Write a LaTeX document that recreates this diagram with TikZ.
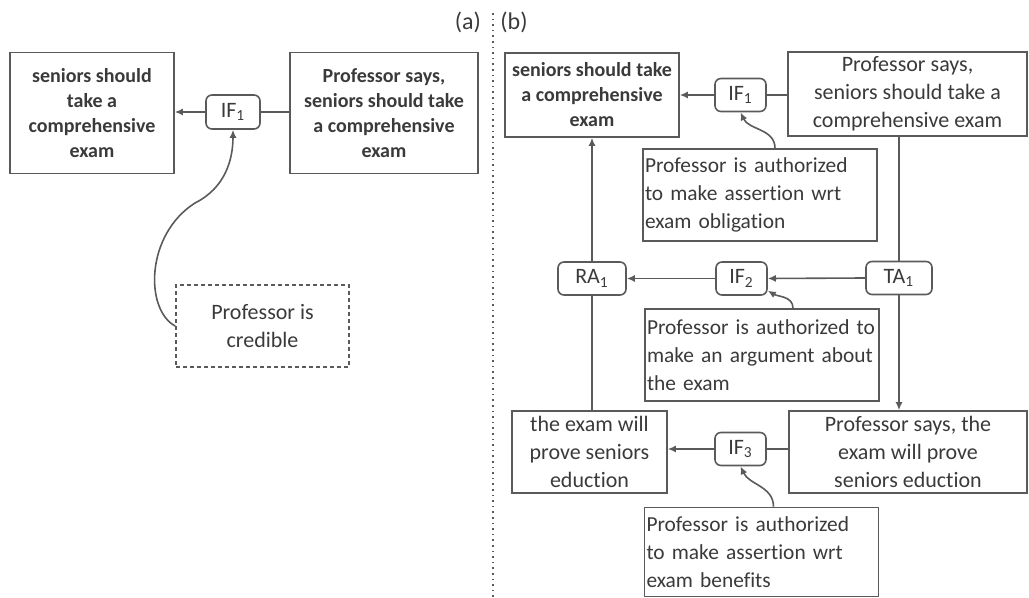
\documentclass[tikz,border=0pt]{standalone}
\usepackage{fontspec}
\setmainfont{Carlito}[Ligatures=NoCommon]
\usepackage{xcolor}
\usetikzlibrary{arrows.meta}
\definecolor{linegray}{HTML}{5A5A5A}
\definecolor{textgray}{HTML}{3A3A3A}

\begin{document}
\begin{tikzpicture}[x=0.5pt,y=-0.5pt,>={Latex[length=4pt,width=3.5pt]},
  every node/.style={text=textgray,font=\fontsize{11}{14}\selectfont},
  claim/.style={draw=linegray,line width=0.8pt,align=center,inner sep=0pt},
  boldclaim/.style={claim,font=\fontsize{10}{12.5}\selectfont\bfseries},
  inf/.style={draw=linegray,line width=0.8pt,rounded corners=3pt,inner sep=0pt,minimum width=25.5pt,minimum height=16.5pt},
  auth/.style={draw=linegray,line width=0.8pt,align=left,font=\fontsize{10.7}{14}\selectfont,inner xsep=1pt,inner ysep=0pt,text width=115pt,minimum height=46pt},
  link/.style={draw=linegray,line width=0.8pt}]
  \useasboundingbox (0,0) rectangle (1029,598);

  % (a)
  \node (labelA) at (468,22) {\fontsize{12}{14}\selectfont(a)};
  \draw[linegray,line width=0.8pt,dotted] (493,13) -- (493,598);
  \node[boldclaim,minimum width=82pt,minimum height=60.5pt] (seniorsA) at (92,113) {seniors should\\take a\\comprehensive\\exam};
  \node[inf,minimum width=27pt,minimum height=17pt] (ifA) at (233,112) {IF\textsubscript{1}};
  \node[boldclaim,minimum width=94pt,minimum height=60.5pt] (saysA) at (384,113) {Professor says,\\seniors should take\\a comprehensive\\exam};
  \node[claim,dash pattern=on 2pt off 1.5pt,minimum width=86.5pt,minimum height=41pt] (credible) at (262.5,326) {Professor is\\credible};
  \draw[link,->] (ifA.west) -- (seniorsA.east |- ifA.west);
  \draw[link] (saysA.west |- ifA) -- (ifA.east);
  \draw[link,->] (credible.west) .. controls (145,310) and (145,235) .. (195,203) .. controls (225,188) and (233,160) .. (ifA.south);

  % (b)
  \node (labelB) at (514,22) {\fontsize{12}{14}\selectfont(b)};
  \node[boldclaim,minimum width=87pt,minimum height=42pt] (seniorsB) at (592,95) {seniors should take\\a comprehensive\\exam};
  \node[inf] (ifOne) at (740.5,95) {IF\textsubscript{1}};
  \node[claim,minimum width=119.5pt,minimum height=42pt] (saysB) at (907.5,94) {Professor says,\\seniors should take a\\comprehensive exam};
  \node[auth] (authOne) at (760,195) {Professor is authorized\\to make assertion wrt\\exam obligation};
  \node[inf,minimum width=34pt] (raOne) at (592,278.5) {RA\textsubscript{1}};
  \node[inf] (ifTwo) at (741.5,278.5) {IF\textsubscript{2}};
  \node[inf,minimum width=33pt] (taOne) at (899,278) {TA\textsubscript{1}};
  \node[auth] (authTwo) at (762,355) {Professor is authorized to\\make an argument about\\the exam};
  \node[claim,minimum width=77.5pt,minimum height=41pt] (proves) at (589.5,452) {the exam will\\prove seniors\\eduction};
  \node[inf] (ifThree) at (740.5,449) {IF\textsubscript{3}};
  \node[claim,minimum width=119pt,minimum height=41pt] (saysC) at (908,452) {Professor says, the\\exam will prove\\seniors eduction};
  \node[auth,minimum height=44.5pt] (authThree) at (761.5,552) {Professor is authorized\\to make assertion wrt\\exam benefits};

  \draw[link,->] (ifOne.west) -- (seniorsB.east |- ifOne);
  \draw[link] (saysB.west |- ifOne) -- (ifOne.east);
  \draw[link,->] ([xshift=7.5pt]authOne.north) to[out=90,in=-65] (ifOne.south);
  \draw[link] (saysB.south -| taOne) -- (taOne.north);
  \draw[link,->] (taOne.south) -- (saysC.north -| taOne);
  \draw[link,->] (taOne.west) -- (ifTwo.east);
  \draw[link,->] (ifTwo.west) -- (raOne.east);
  \draw[link,->] (raOne.north) -- (seniorsB.south -| raOne);
  \draw[link] (raOne.south) -- (proves.north -| raOne);
  \draw[link,->] ([xshift=15.5pt]authTwo.north) to[out=90,in=-30] (ifTwo.-25);
  \draw[link,->] (ifThree.west) -- (proves.east |- ifThree);
  \draw[link] (saysC.west |- ifThree) -- (ifThree.east);
  \draw[link,->] ([xshift=6pt]authThree.north) to[out=90,in=-65] (ifThree.south);
\end{tikzpicture}
\end{document}
